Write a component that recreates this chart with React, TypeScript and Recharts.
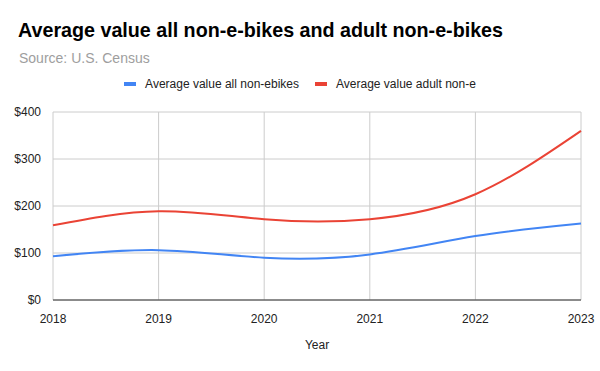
import React from "react";
import { LineChart, Line, XAxis, YAxis, CartesianGrid, Label } from "recharts";

const years = [2018, 2019, 2020, 2021, 2022, 2023];
const allNonEbikes = [93, 106, 90, 97, 136, 163];
const adultNonEbikes = [159, 189, 172, 172, 225, 360];
const yTicks = [0, 100, 200, 300, 400];

const BLUE = "#4285f4";
const RED = "#ea4335";
const FONT = '"Liberation Sans", Arial, sans-serif';

const data = years.map((y, i) => ({
  year: y,
  all: allNonEbikes[i],
  adult: adultNonEbikes[i],
}));

const legendItems = [
  { label: "Average value all non-ebikes", color: BLUE },
  { label: "Average value adult non-e", color: RED },
];

export default function App() {
  return (
    <div
      style={{
        position: "absolute",
        left: 0,
        top: 0,
        width: 600,
        height: 371,
        background: "#fff",
        fontFamily: FONT,
      }}
    >
      <div style={{ position: "absolute", left: 18, top: 19, fontSize: 19.7, fontWeight: 700, color: "#000", whiteSpace: "nowrap" }}>
        Average value all non-e-bikes and adult non-e-bikes
      </div>
      <div style={{ position: "absolute", left: 19, top: 50, fontSize: 14, color: "#9e9e9e", whiteSpace: "nowrap" }}>
        Source: U.S. Census
      </div>
      <div
        style={{
          position: "absolute",
          left: 0,
          top: 77,
          width: 600,
          display: "flex",
          justifyContent: "center",
          fontSize: 12,
          color: "#222",
        }}
      >
        {legendItems.map((it) => (
          <div key={it.label} style={{ display: "flex", alignItems: "center", margin: "0 8px" }}>
            <span style={{ display: "inline-block", width: 12, height: 4, background: it.color, marginRight: 9 }} />
            <span>{it.label}</span>
          </div>
        ))}
      </div>
      <LineChart
        width={600}
        height={371}
        data={data}
        margin={{ top: 112, right: 19, left: 8, bottom: 0 }}
        style={{ position: "absolute", left: 0, top: 0 }}
      >
        <CartesianGrid stroke="#cccccc" />
        <XAxis
          dataKey="year"
          type="number"
          domain={[2018, 2023]}
          ticks={years}
          height={71}
          axisLine={{ stroke: "#333" }}
          tickLine={false}
          tickMargin={8}
          tick={{ fontSize: 12, fill: "#222" }}
        >
          <Label value="Year" position="insideBottom" offset={22} style={{ fontSize: 12, fill: "#222" }} />
        </XAxis>
        <YAxis
          domain={[0, 400]}
          ticks={yTicks}
          width={45}
          axisLine={false}
          tickLine={false}
          tickMargin={6}
          tickFormatter={(v) => `$${v}`}
          tick={{ fontSize: 12, fill: "#222" }}
        />
        <Line type="natural" dataKey="all" stroke={BLUE} strokeWidth={2} dot={false} isAnimationActive={false} />
        <Line type="natural" dataKey="adult" stroke={RED} strokeWidth={2} dot={false} isAnimationActive={false} />
      </LineChart>
    </div>
  );
}
